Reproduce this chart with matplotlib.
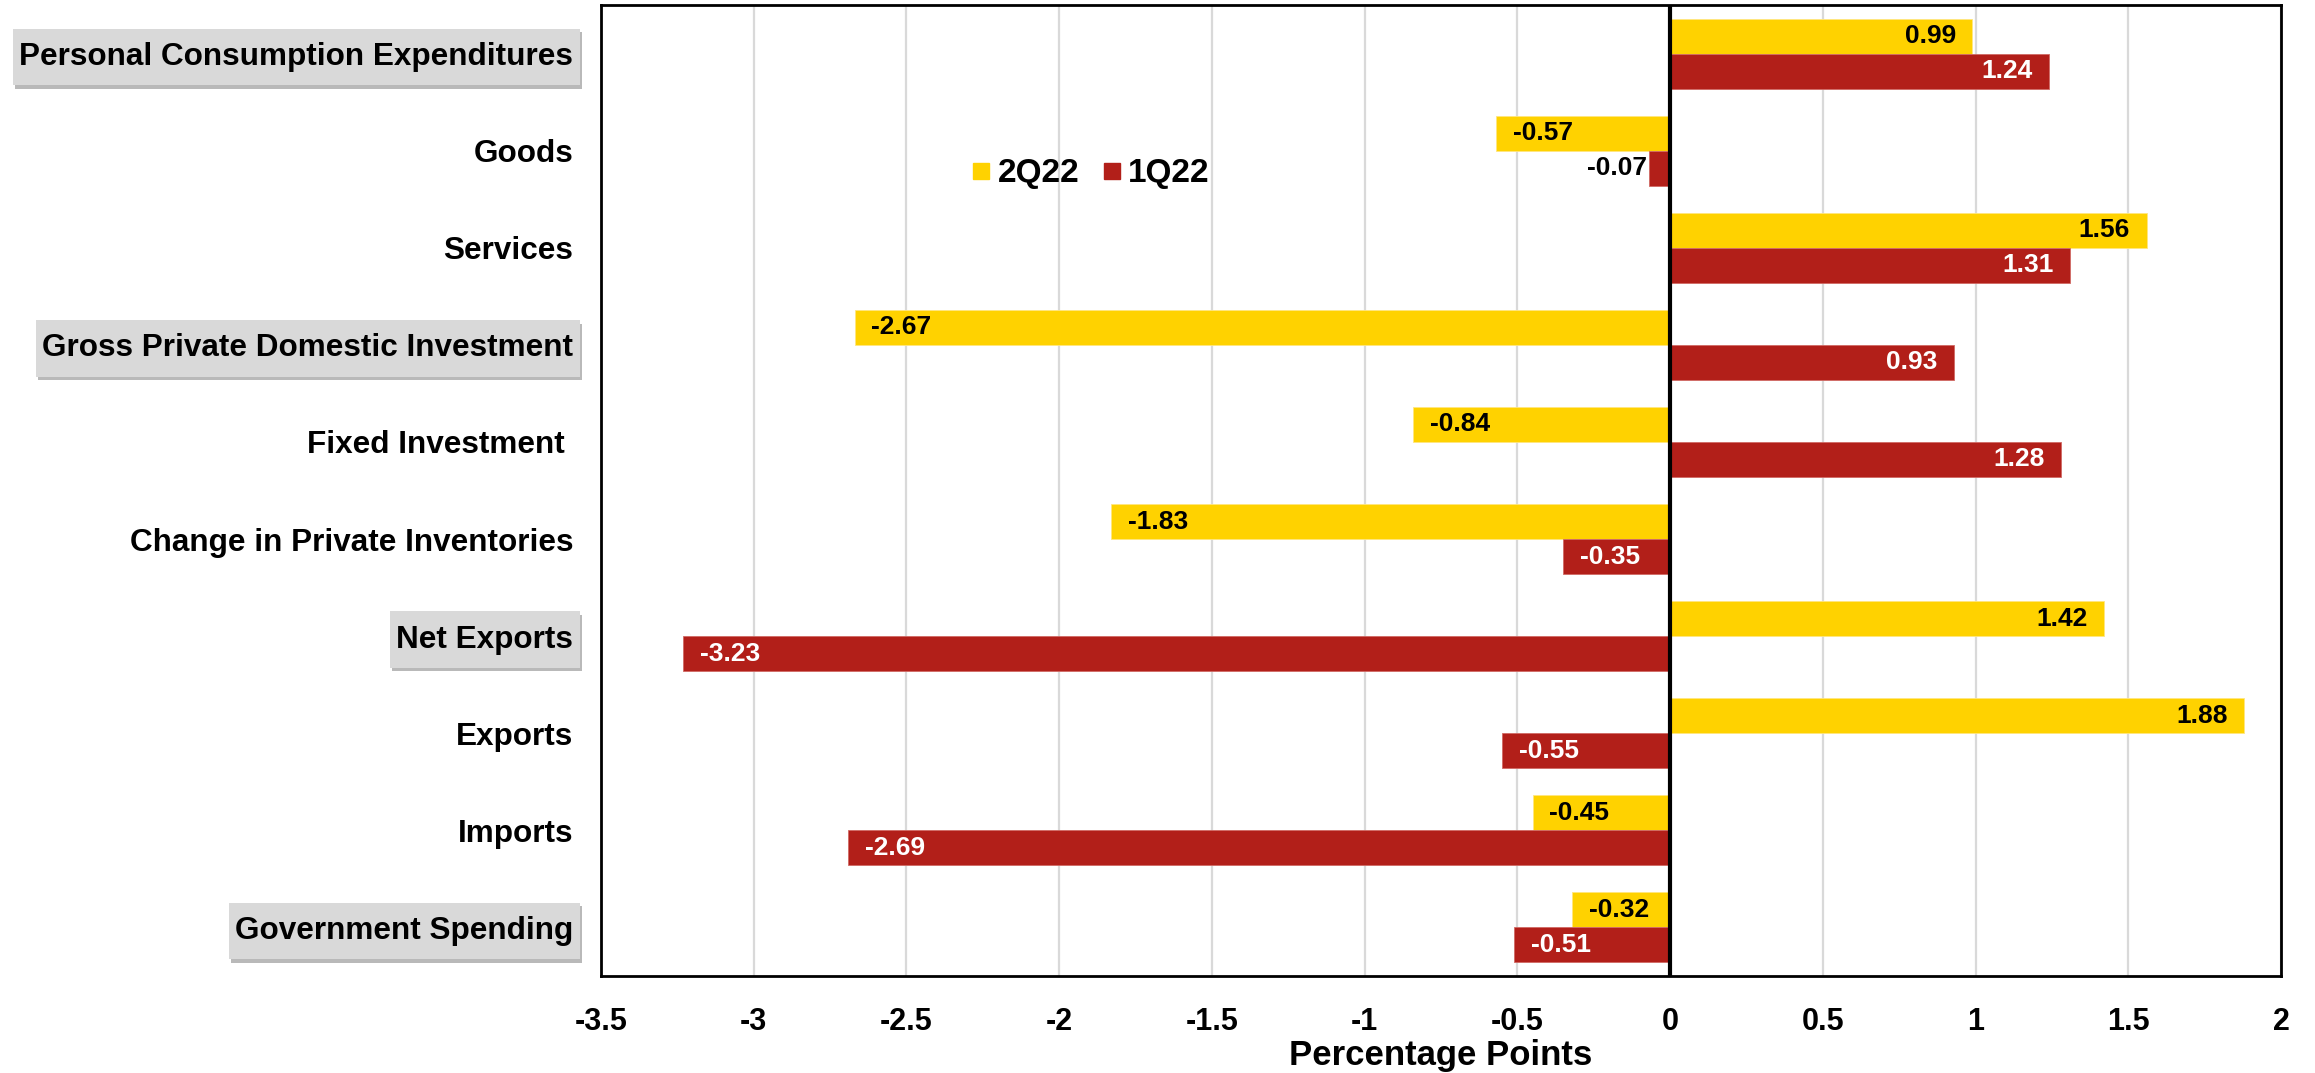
import numpy as np
import matplotlib
matplotlib.use("Agg")
import matplotlib.pyplot as plt
from matplotlib import patheffects
from matplotlib.lines import Line2D
from matplotlib.path import Path

plt.rcParams['font.family'] = ['Liberation Sans', 'DejaVu Sans']
plt.rcParams['font.weight'] = 'bold'

# Daten
categories = ["Personal Consumption Expenditures", "Goods", "Services",
              "Gross Private Domestic Investment", "Fixed Investment ",
              "Change in Private Inventories", "Net Exports", "Exports",
              "Imports", "Government Spending"]
boxed = [True, False, False, True, False, False, True, False, False, True]
q2_22 = [0.99, -0.57, 1.56, -2.67, -0.84, -1.83, 1.42, 1.88, -0.45, -0.32]
q1_22 = [1.24, -0.07, 1.31, 0.93, 1.28, -0.35, -3.23, -0.55, -2.69, -0.51]
xticks = [-3.5, -3, -2.5, -2, -1.5, -1, -0.5, 0, 0.5, 1, 1.5, 2]
series_names = ["2Q22", "1Q22"]

yellow = '#FFD200'
red = '#B21F19'

fig = plt.figure(figsize=(23.15, 10.73), dpi=100)
ax = fig.add_axes([0.2596, 0.0904, 0.7257, 0.9049])

y = np.arange(len(categories))
h = 0.36
ax.barh(y - h / 2, q2_22, height=h, color=yellow, edgecolor='#FFE680', lw=0.6, zorder=2)
ax.barh(y + h / 2, q1_22, height=h, color=red, edgecolor='#D06A64', lw=0.6, zorder=2)

# Werte-Beschriftungen
def label(vals, offs, col):
    for yi, v in zip(y + offs, vals):
        c = col
        if v >= 0:
            xo, ha = -12, 'right'
        elif v > -0.2:
            xo, ha, c = -1, 'right', 'black'
        else:
            xo, ha = 12, 'left'
        ax.annotate(f"{v:.2f}", (v, yi), xytext=(xo, 0), textcoords='offset points',
                    ha=ha, va='center', fontsize=19, fontweight='bold', color=c, zorder=4)

label(q2_22, -h / 2, 'black')
label(q1_22, h / 2, 'white')

ax.axvline(0, color='black', lw=3, zorder=3)
ax.set_xlim(-3.5, 2)
ax.set_ylim(len(categories) - 0.5, -0.5)
ax.set_xticks(xticks)
ax.set_xticklabels([f"{t:g}" for t in xticks], fontsize=22, fontweight='bold')
ax.set_yticks(y)
ax.set_yticklabels(categories, fontsize=22.7, fontweight='bold')
ax.tick_params(axis='both', length=0)
ax.tick_params(axis='y', pad=20)
ax.tick_params(axis='x', pad=22)
ax.grid(axis='x', color='#D9D9D9', lw=1.6, zorder=0)
ax.set_axisbelow(True)
for s in ax.spines.values():
    s.set_linewidth(2)
    s.set_color('black')

# graue Kaesten hinter den Hauptkategorien
def wide_box(x0, y0, width, height, mutation_size):
    px, py = 0.2 * mutation_size, 0.42 * mutation_size
    x0, y0 = x0 - px, y0 - py
    x1, y1 = x0 + width + 2 * px, y0 + height + 2 * py
    return Path([(x0, y0), (x1, y0), (x1, y1), (x0, y1), (x0, y0)], closed=True)

for lab, b in zip(ax.get_yticklabels(), boxed):
    if b:
        lab.set_bbox(dict(boxstyle=wide_box, facecolor='#D9D9D9', edgecolor='none'))
        lab.get_bbox_patch().set_path_effects([
            patheffects.SimplePatchShadow(offset=(1.5, -2.5), shadow_rgbFace='#808080', alpha=0.55),
            patheffects.Normal()])

ax.set_xlabel("Percentage Points", fontsize=25, fontweight='bold', labelpad=2)

handles = [Line2D([], [], marker='s', ls='none', color=yellow, markersize=11.5),
           Line2D([], [], marker='s', ls='none', color=red, markersize=11.5)]
ax.legend(handles, series_names, loc='center', bbox_to_anchor=(0.291, 0.826), ncol=2,
          frameon=False, handletextpad=0.15, columnspacing=0.6,
          handlelength=0.7, prop={'weight': 'bold', 'size': 24})

fig.savefig("out.png", dpi=100)
